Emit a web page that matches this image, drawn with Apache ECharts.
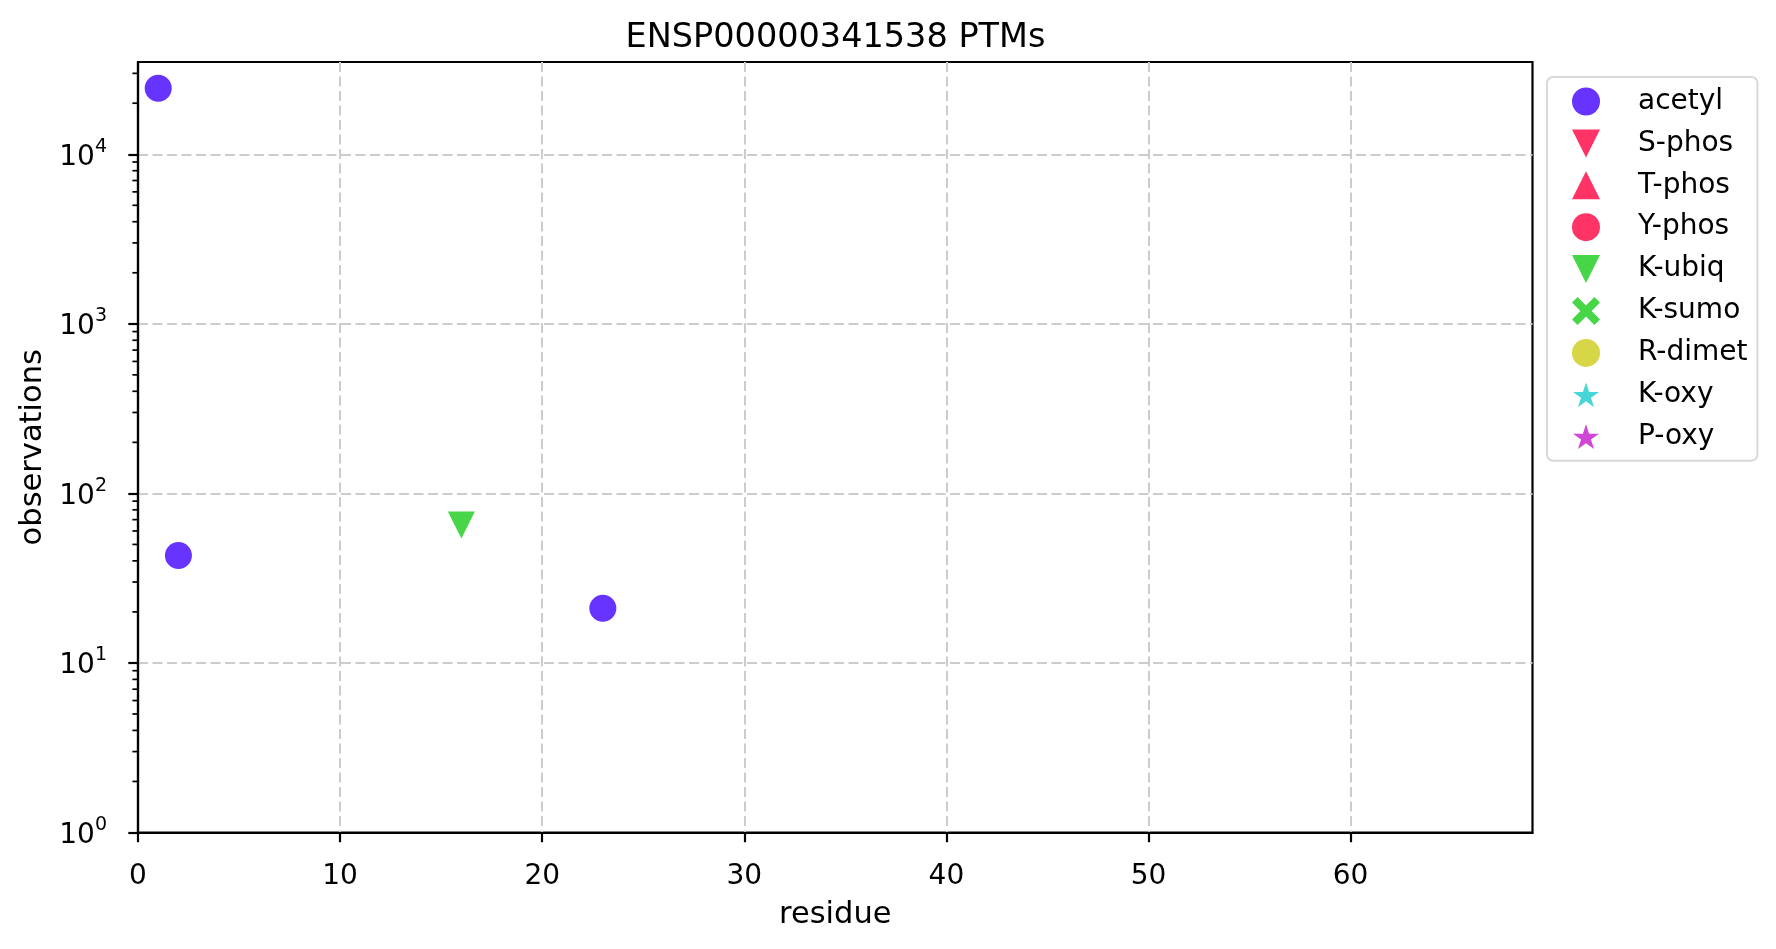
<!DOCTYPE html>
<html>
<head>
<meta charset="utf-8">
<script src="https://cdn.jsdelivr.net/npm/echarts@6/dist/echarts.min.js"></script>
<style>
html,body{margin:0;padding:0;background:#fff;}
#chart{width:1776px;height:949px;}
</style>
</head>
<body>
<div id="chart"></div>
<script>
// ---- data ----
const seriesNames = ['acetyl','S-phos','T-phos','Y-phos','K-ubiq','K-sumo','R-dimet','K-oxy','P-oxy'];
const acetylX = [1, 2, 23];
const acetylY = [24500, 43, 21];
const sphosX = []; const sphosY = [];
const tphosX = []; const tphosY = [];
const yphosX = []; const yphosY = [];
const kubiqX = [16];
const kubiqY = [65];
const ksumoX = []; const ksumoY = [];
const rdimetX = []; const rdimetY = [];
const koxyX = []; const koxyY = [];
const poxyX = []; const poxyY = [];
const xTicks = [0, 10, 20, 30, 40, 50, 60];
const yTicks = [1, 10, 100, 1000, 10000];
const yMinorTicks = [2,3,4,5,6,7,8,9,20,30,40,50,60,70,80,90,200,300,400,500,600,700,800,900,2000,3000,4000,5000,6000,7000,8000,9000,20000,30000];
const xRange = [0, 69];
const yRange = [1, 35000];

const pairs = (xs, ys) => xs.map((x, i) => [x, ys[i]]);

const FONT = 'DejaVu Sans';
const triDown = 'path://M0,0 L2,0 L1,2 Z';
const triUp = 'path://M1,0 L2,2 L0,2 Z';
const xMark = 'path://M0.2,0 L0.5,0.3 L0.8,0 L1,0.2 L0.7,0.5 L1,0.8 L0.8,1 L0.5,0.7 L0.2,1 L0,0.8 L0.3,0.5 L0,0.2 Z';
const star = 'path://M-1.025,-1.12 L-1.025,-1.12 M1.025,0.93 L1.025,0.93 M0,-1 L0.2245,-0.309 L0.9511,-0.309 L0.3633,0.118 L0.5878,0.809 L0,0.382 L-0.5878,0.809 L-0.3633,0.118 L-0.9511,-0.309 L-0.2245,-0.309 Z';

const styles = [
  {name:'acetyl', data: pairs(acetylX, acetylY), symbol:'circle', size:27, color:'#6633ff'},
  {name:'S-phos', data: pairs(sphosX, sphosY), symbol:triDown, size:27, color:'#ff3366'},
  {name:'T-phos', data: pairs(tphosX, tphosY), symbol:triUp, size:27, color:'#ff3366'},
  {name:'Y-phos', data: pairs(yphosX, yphosY), symbol:'circle', size:27, color:'#ff3366'},
  {name:'K-ubiq', data: pairs(kubiqX, kubiqY), symbol:triDown, size:27, color:'#47d647'},
  {name:'K-sumo', data: pairs(ksumoX, ksumoY), symbol:xMark, size:27, color:'#47d647'},
  {name:'R-dimet', data: pairs(rdimetX, rdimetY), symbol:'circle', size:27, color:'#d6d647'},
  {name:'K-oxy', data: pairs(koxyX, koxyY), symbol:star, size:27, color:'#47d6d6'},
  {name:'P-oxy', data: pairs(poxyX, poxyY), symbol:star, size:27, color:'#d047d6'}
];

const series = styles.map(s => ({
  type: 'scatter',
  name: s.name,
  data: s.data,
  symbol: s.symbol,
  symbolSize: s.size,
  itemStyle: {color: s.color, opacity: 1},
  z: 3
}));

series.push({
  type: 'custom',
  silent: true,
  clip: false,
  data: yMinorTicks.map(v => [xRange[0], v]),
  renderItem: (params, api) => {
    const p = api.coord([api.value(0), api.value(1)]);
    return {
      type: 'line',
      shape: {x1: p[0] - 5.6, y1: p[1], x2: p[0], y2: p[1]},
      style: {stroke: '#000', lineWidth: 1.7}
    };
  },
  z: 5
});

const chart = echarts.init(document.getElementById('chart'), null, {renderer: 'canvas'});
chart.setOption({
  animation: false,
  backgroundColor: '#fff',
  textStyle: {fontFamily: FONT},
  title: {
    text: 'ENSP00000341538 PTMs',
    left: 830.5, top: 16.5, textAlign: 'center',
    textStyle: {fontFamily: FONT, fontSize: 33.5, fontWeight: 'normal', color: '#000'}
  },
  grid: {
    left: 138, right: 243.5, top: 62, bottom: 116.5,
    show: true, borderColor: '#000', borderWidth: 2.2, backgroundColor: 'transparent'
  },
  legend: {
    data: seriesNames,
    orient: 'vertical',
    left: 1547, top: 77,
    padding: [10.5, 10, 10, 25],
    itemWidth: 28, itemHeight: 28, itemGap: 13.9,
    symbolKeepAspect: true,
    backgroundColor: '#fff',
    borderColor: '#d9d9d9', borderWidth: 2, borderRadius: 6,
    formatter: '{a|{name}}',
    textStyle: {
      fontFamily: FONT, fontSize: 28, color: '#000', lineHeight: 28,
      rich: {a: {fontFamily: FONT, fontSize: 28, color: '#000', lineHeight: 28, padding: [0, 0, 0, 33]}}
    },
    selectedMode: false
  },
  xAxis: {
    type: 'value',
    min: xRange[0], max: xRange[1], interval: 10,
    name: 'residue', nameLocation: 'middle', nameGap: 67,
    nameTextStyle: {fontFamily: FONT, fontSize: 30.5, color: '#000'},
    axisLine: {show: true, onZero: false, lineStyle: {color: '#000', width: 2.2}},
    axisTick: {show: true, length: 9.7, lineStyle: {color: '#000', width: 2.2}, customValues: xTicks},
    axisLabel: {fontFamily: FONT, fontSize: 28, color: '#000', margin: 30.5, customValues: xTicks},
    splitLine: {show: true, lineStyle: {color: '#cccccc', width: 2, type: [10, 4.5]}}
  },
  yAxis: {
    type: 'log', logBase: 10,
    min: yRange[0], max: yRange[1],
    name: 'observations', nameLocation: 'middle', nameGap: 86.5, nameRotate: 90,
    nameTextStyle: {fontFamily: FONT, fontSize: 30.5, color: '#000'},
    axisLine: {show: true, onZero: false, lineStyle: {color: '#000', width: 2.2}},
    axisTick: {show: true, length: 9.7, lineStyle: {color: '#000', width: 2.2}, customValues: yTicks},
    axisLabel: {
      fontFamily: FONT, fontSize: 28, color: '#000', margin: 31, customValues: yTicks,
      formatter: v => '{b|10}{s|' + Math.round(Math.log10(v)) + '}',
      rich: {
        b: {fontFamily: FONT, fontSize: 28, color: '#000', lineHeight: 34, verticalAlign: 'bottom'},
        s: {fontFamily: FONT, fontSize: 19, color: '#000', lineHeight: 34, verticalAlign: 'top'}
      }
    },
    splitLine: {show: true, lineStyle: {color: '#cccccc', width: 2, type: [10, 4.5]}}
  },
  series: series
});
</script>
</body>
</html>
